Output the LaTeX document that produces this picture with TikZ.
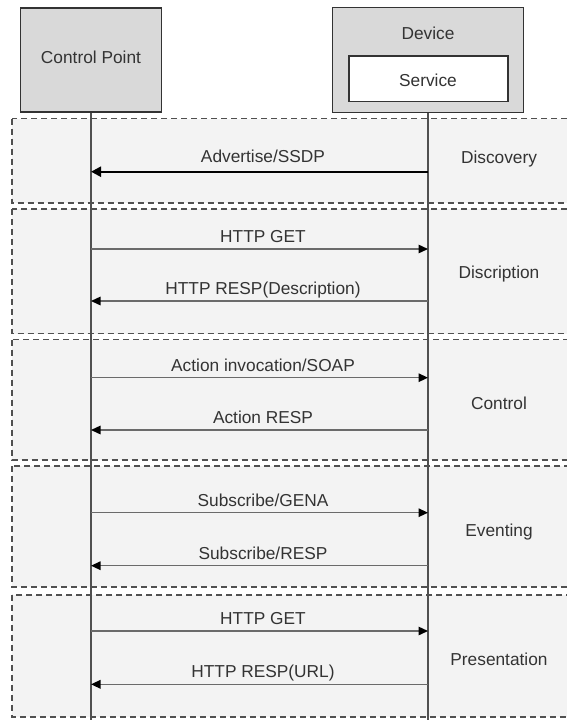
\documentclass[tikz,border=0pt]{standalone}
\usepackage{fontspec}
\setmainfont{Liberation Sans}
\usetikzlibrary{arrows.meta}
\definecolor{boxfill}{HTML}{D9D9D9}
\definecolor{bandfill}{HTML}{F3F3F3}
\definecolor{txt}{HTML}{333333}
\definecolor{linegray}{HTML}{6A6A6A}
\definecolor{lifegray}{HTML}{505050}
\definecolor{dashgray}{HTML}{505050}
\begin{document}
\begin{tikzpicture}[x=1pt,y=-1pt,
  every node/.style={font=\fontsize{17.3}{20}\selectfont, text=txt, inner sep=0pt},
  actorbox/.style={draw=black!80, line width=1.3pt, fill=boxfill},
  svcbox/.style={draw=black!80, line width=1.3pt, fill=white},
  band/.style={fill=bandfill, draw=dashgray, line width=1.4pt, dash pattern=on 6pt off 4pt},
  life/.style={draw=lifegray, line width=1.3pt},
  msg/.style={draw=linegray, line width=1.4pt, -{Triangle[length=9.5pt,width=8.5pt,color=black,fill=black]}},
  bigmsg/.style={draw=black, line width=2.3pt, -{Triangle[length=10pt,width=10pt,color=black,fill=black]}},
  lbl/.style={anchor=base, yshift=6.5pt, xshift=3.5pt},
  phase/.style={anchor=base}]
\clip (0,0) rectangle (567,720);
\fill[white] (0,0) rectangle (567,720);
% bands
\draw[band] (12,118.5) rectangle (600,203);
\draw[band] (12,209) rectangle (600,333.5);
\draw[band] (12,339.5) rectangle (600,460);
\draw[band] (12,466) rectangle (600,587);
\draw[band] (12,595) rectangle (600,717);
% actor boxes
\node[actorbox, minimum width=141pt, minimum height=104pt] (cp) at (91,60) {};
\node[actorbox, minimum width=191pt, minimum height=105pt] (dev) at (428,60) {};
\node[svcbox, minimum width=159pt, minimum height=45.5pt] (svc) at (428.5,78.8) {};
\node[anchor=base] (cpl) at (91,63) {Control Point};
\node[anchor=base] (devl) at (428,39) {Device};
\node[anchor=base] (svcl) at (428,86) {Service};
% lifelines
\coordinate (cpend) at (91,722);
\coordinate (devend) at (428,722);
\draw[life] (cp.south) -- (cpend);
\draw[life] (dev.south) -- (devend);
% message anchor points
\foreach \n/\y in {1/171.7, 2/249, 3/301, 4/377.7, 5/430, 6/512.7, 7/565.7, 8/631, 9/684.3}{
  \coordinate (c\n) at (91,\y);
  \coordinate (d\n) at (428,\y);
}
\draw[bigmsg] (d1) -- node[lbl, yshift=3pt]{Advertise/SSDP} (c1);
\draw[msg] (c2) -- node[lbl]{HTTP GET} (d2);
\draw[msg] (d3) -- node[lbl]{HTTP RESP(Description)} (c3);
\draw[msg] (c4) -- node[lbl]{Action invocation/SOAP} (d4);
\draw[msg] (d5) -- node[lbl]{Action RESP} (c5);
\draw[msg] (c6) -- node[lbl]{Subscribe/GENA} (d6);
\draw[msg] (d7) -- node[lbl]{Subscribe/RESP} (c7);
\draw[msg] (c8) -- node[lbl]{HTTP GET} (d8);
\draw[msg] (d9) -- node[lbl]{HTTP RESP(URL)} (c9);
% phase labels
\node[phase] (p1) at (499,163.5) {Discovery};
\node[phase] (p2) at (499,278.5) {Discription};
\node[phase] (p3) at (499,409) {Control};
\node[phase] (p4) at (499,536.5) {Eventing};
\node[phase] (p5) at (499,665.5) {Presentation};
\end{tikzpicture}
\end{document}
